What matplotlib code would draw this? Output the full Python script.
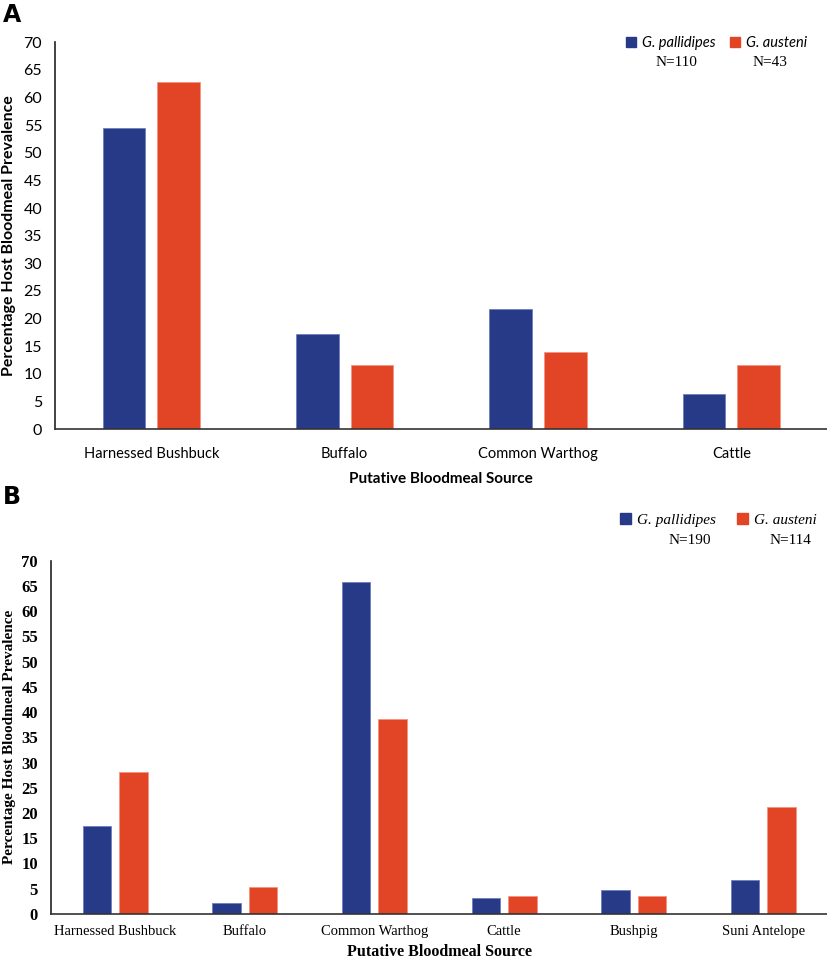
import numpy as np
import matplotlib
matplotlib.use("Agg")
import matplotlib.pyplot as plt
from matplotlib.patches import Patch

# panel A data (percent of bloodmeals)
cats_a = ["Harnessed Bushbuck", "Buffalo", "Common Warthog", "Cattle"]
pall_a = [54.5, 17.3, 21.8, 6.4]
aust_a = [62.8, 11.6, 14.0, 11.6]
n_a = ["N=110", "N=43"]

# panel B data
cats_b = ["Harnessed Bushbuck", "Buffalo", "Common Warthog", "Cattle", "Bushpig", "Suni Antelope"]
pall_b = [17.4, 2.1, 65.8, 3.2, 4.7, 6.8]
aust_b = [28.1, 5.3, 38.6, 3.5, 3.5, 21.1]
n_b = ["N=190", "N=114"]

blue = "#263a87"
red = "#e24526"
w = 0.22
off = 0.141

fig = plt.figure(figsize=(8.28, 9.6), dpi=100)

def draw(ax, cats, pall, aust, fam, tickw, ysize):
    x = np.arange(len(cats))
    ax.bar(x - off, pall, w, color=blue, edgecolor="#6f7fc0", linewidth=0.6)
    ax.bar(x + off, aust, w, color=red, edgecolor="#f3937e", linewidth=0.6)
    ax.set_xlim(-0.5, len(cats) - 0.5)
    ax.set_ylim(0, 70)
    ax.set_yticks(np.arange(0, 71, 5))
    ax.set_xticks(x)
    ax.set_xticklabels(cats, family=fam, fontsize=10.5)
    for t in ax.get_yticklabels():
        t.set_family(fam)
        t.set_fontsize(ysize)
        t.set_fontweight(tickw)
    ax.tick_params(length=0, pad=9)
    ax.tick_params(axis="x", pad=13)
    for s in ["top", "right"]:
        ax.spines[s].set_visible(False)
    ax.spines["left"].set_color("#222222")
    ax.spines["bottom"].set_color("#333333")
    ax.spines["left"].set_linewidth(1.2)
    ax.spines["bottom"].set_linewidth(1.2)

# ---- panel A ----
axa = fig.add_axes([0.066, 0.553, 0.934, 0.403])
draw(axa, cats_a, pall_a, aust_a, "Lato", "normal", 11.5)
axa.set_ylabel("Percentage Host Bloodmeal Prevalence", family="Lato", fontweight="bold", fontsize=11.5, labelpad=5)
axa.set_xlabel("Putative Bloodmeal Source", family="Lato", fontweight="bold", fontsize=11, labelpad=8)

# ---- panel B ----
axb = fig.add_axes([0.061, 0.048, 0.939, 0.368])
draw(axb, cats_b, pall_b, aust_b, "Liberation Serif", "bold", 12)
axb.set_ylabel("Percentage Host Bloodmeal Prevalence", family="Liberation Serif", fontweight="bold", fontsize=11, labelpad=4)
axb.set_xlabel("Putative Bloodmeal Source", family="Liberation Serif", fontweight="bold", fontsize=11.5, labelpad=4)
axb.tick_params(axis="x", pad=8)

handles = [Patch(color=blue), Patch(color=red)]
fig.legend(handles, ["G. pallidipes", "G. austeni"], loc="center", bbox_to_anchor=(0.865, 0.955),
           ncol=2, frameon=False, handlelength=0.7, handleheight=0.7, handletextpad=0.4,
           columnspacing=1.0, prop={"family": "Lato", "style": "italic", "size": 10.5})
fig.legend(handles, ["G. pallidipes", "G. austeni"], loc="center", bbox_to_anchor=(0.868, 0.458),
           ncol=2, frameon=False, handlelength=0.7, handleheight=0.7, handletextpad=0.4,
           columnspacing=1.4, prop={"family": "Liberation Serif", "style": "italic", "size": 11})

fig.text(676 / 828, 1 - 63 / 960, n_a[0], family="Liberation Serif", fontsize=11, ha="center", va="center")
fig.text(770 / 828, 1 - 63 / 960, n_a[1], family="Liberation Serif", fontsize=11, ha="center", va="center")
fig.text(690 / 828, 1 - 540 / 960, n_b[0], family="Liberation Serif", fontsize=11, ha="center", va="center")
fig.text(790 / 828, 1 - 540 / 960, n_b[1], family="Liberation Serif", fontsize=11, ha="center", va="center")

fig.text(0.004, 0.984, "A", family="DejaVu Sans", fontweight="bold", fontsize=17, va="center")
fig.text(0.004, 0.482, "B", family="DejaVu Sans", fontweight="bold", fontsize=17, va="center")

fig.savefig("out.png", dpi=100)
